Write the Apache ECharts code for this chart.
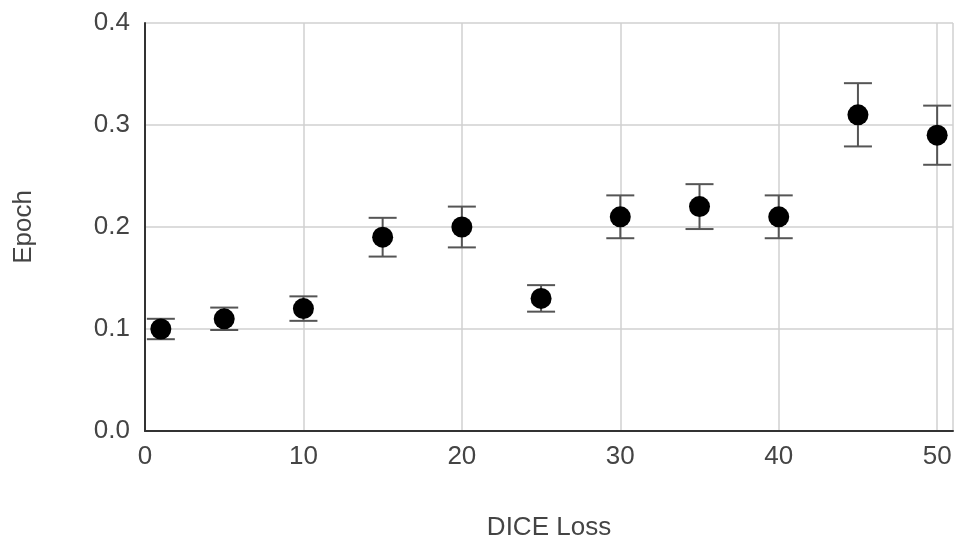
<!DOCTYPE html>
<html>
<head>
<meta charset="utf-8">
<script src="https://cdn.jsdelivr.net/npm/echarts@6/dist/echarts.min.js"></script>
<style>
  html, body { margin: 0; padding: 0; background: #fff; }
  #chart { width: 955px; height: 542px; }
</style>
</head>
<body>
<div id="chart"></div>
<script>
// DICE loss vs epoch, with symmetric error bars
const diceLoss = [1, 5, 10, 15, 20, 25, 30, 35, 40, 45, 50];
const epochMean = [0.10, 0.11, 0.12, 0.19, 0.20, 0.13, 0.21, 0.22, 0.21, 0.31, 0.29];
const epochErr = [0.010, 0.011, 0.012, 0.019, 0.020, 0.013, 0.021, 0.022, 0.021, 0.031, 0.029];
const yTicks = [0, 0.1, 0.2, 0.3, 0.4];

const points = diceLoss.map((x, i) => [x, epochMean[i]]);
const bars = diceLoss.map((x, i) => [x, epochMean[i] - epochErr[i], epochMean[i] + epochErr[i]]);

const chart = echarts.init(document.getElementById('chart'));
const font = 'Liberation Sans, Arial, sans-serif';

chart.setOption({
  animation: false,
  grid: { left: 145, right: 2, top: 23, bottom: 111, containLabel: false, outerBoundsMode: 'none' },
  xAxis: {
    type: 'value', min: 0, max: 51, interval: 10,
    name: 'DICE Loss', nameLocation: 'middle', nameGap: 84,
    nameTextStyle: { fontFamily: font, fontSize: 26, color: '#444' },
    axisLine: { show: true, lineStyle: { color: '#333', width: 2 } },
    axisTick: { show: false },
    axisLabel: {
      fontFamily: font, fontSize: 26, color: '#444', margin: 13,
      formatter: v => (v % 10 === 0 ? String(v) : '')
    },
    splitLine: { show: true, lineStyle: { color: '#d0d0d0', width: 1.5 } }
  },
  yAxis: {
    type: 'value', min: yTicks[0], max: yTicks[yTicks.length - 1], interval: 0.1,
    name: 'Epoch', nameLocation: 'middle', nameGap: 108,
    nameTextStyle: { fontFamily: font, fontSize: 26, color: '#444' },
    axisLine: { show: true, lineStyle: { color: '#333', width: 2 } },
    axisTick: { show: false },
    axisLabel: {
      fontFamily: font, fontSize: 26, color: '#444', margin: 15,
      formatter: v => v.toFixed(1)
    },
    splitLine: { show: true, lineStyle: { color: '#d0d0d0', width: 1.5 } }
  },
  series: [
    {
      type: 'custom',
      data: bars,
      z: 3,
      renderItem: (params, api) => {
        const x = api.value(0);
        const lo = api.coord([x, api.value(1)]);
        const hi = api.coord([x, api.value(2)]);
        const half = 14;
        const style = { stroke: '#555', lineWidth: 2 };
        return {
          type: 'group',
          children: [
            { type: 'line', shape: { x1: lo[0], y1: lo[1], x2: hi[0], y2: hi[1] }, style },
            { type: 'line', shape: { x1: hi[0] - half, y1: hi[1], x2: hi[0] + half, y2: hi[1] }, style },
            { type: 'line', shape: { x1: lo[0] - half, y1: lo[1], x2: lo[0] + half, y2: lo[1] }, style }
          ]
        };
      }
    },
    {
      type: 'scatter',
      data: points,
      symbol: 'circle',
      symbolSize: 21,
      z: 4,
      itemStyle: { color: '#000', opacity: 1 }
    }
  ]
});
</script>
</body>
</html>
